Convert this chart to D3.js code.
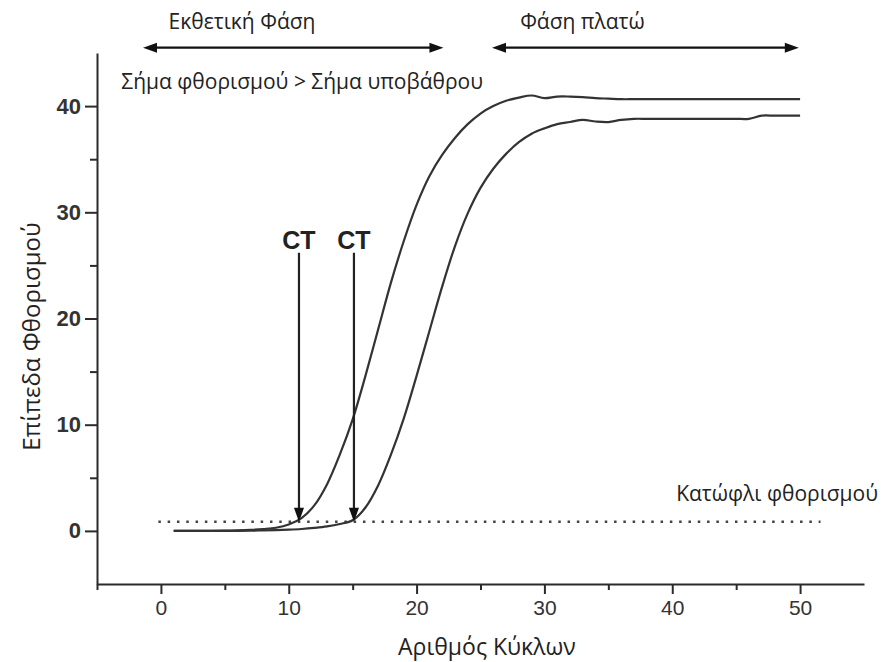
<!DOCTYPE html>
<html>
<head>
<meta charset="utf-8">
<script src="https://cdn.jsdelivr.net/npm/d3@7"></script>
<style>
body { margin: 0; background: #fff; }
</style>
</head>
<body>
<div id="chart"></div>
<script>
// cycle numbers and the two amplification curves
var cycles = [1, 2, 3, 4, 5, 6, 7, 8, 9, 10,
    11, 12, 13, 14, 15, 16, 17, 18, 19, 20,
    21, 22, 23, 24, 25, 26, 27, 28, 29, 30,
    31, 32, 33, 34, 35, 36, 37, 38, 39, 40,
    41, 42, 43, 44, 45, 46, 47, 48, 49, 50];
var sampleA = [0, 0, 0, 0, 0.02, 0.05, 0.1, 0.18, 0.3, 0.6,
    1.2, 2.4, 4.4, 7.2, 10.5, 14.6, 19.0, 23.4, 27.3, 30.7,
    33.4, 35.4, 37.0, 38.3, 39.3, 40.0, 40.5, 40.8, 41.0, 40.75,
    40.9, 40.9, 40.85, 40.75, 40.7, 40.65, 40.65, 40.65, 40.65, 40.65,
    40.65, 40.65, 40.65, 40.65, 40.65, 40.65, 40.65, 40.65, 40.65, 40.65];
var sampleB = [0, 0, 0, 0, 0, 0, 0.02, 0.05, 0.08, 0.12,
    0.18, 0.28, 0.42, 0.65, 1.0, 2.2, 4.3, 7.2, 10.6, 14.6,
    18.8, 23.0, 26.8, 29.9, 32.3, 34.1, 35.5, 36.6, 37.4, 37.9,
    38.3, 38.5, 38.7, 38.55, 38.5, 38.7, 38.8, 38.8, 38.8, 38.8,
    38.8, 38.8, 38.8, 38.8, 38.8, 38.8, 39.1, 39.1, 39.1, 39.1];
var xTicks = [0, 10, 20, 30, 40, 50];
var xMinor = [-5, 5, 15, 25, 35, 45];
var yTicks = [0, 10, 20, 30, 40];
var yMinor = [5, 15, 25, 35];
var threshold = 0.85;
var ctValues = [10.8, 15.1];

var width = 881,
    height = 662;

var svg = d3.select("#chart").append("svg")
    .attr("width", width)
    .attr("height", height)
    .style("font-family", "'Open Sans', sans-serif");

var x = d3.scaleLinear().domain([-5, 55]).range([97, 864]);
var y = d3.scaleLinear().domain([-5, 45]).range([584, 53]);

var ink = "#2b2b2b";

// axes
var yAxis = svg.append("g")
    .attr("transform", "translate(" + x(-5) + ",0)")
    .call(d3.axisLeft(y).tickValues(yTicks).tickSize(12).tickSizeOuter(0).tickPadding(4));
svg.append("g")
    .attr("transform", "translate(" + x(-5) + ",0)")
    .call(d3.axisLeft(y).tickValues(yMinor).tickSize(7).tickFormat(""))
    .select(".domain").remove();

var xAxis = svg.append("g")
    .attr("transform", "translate(0," + y(-5) + ")")
    .call(d3.axisBottom(x).tickValues(xTicks).tickSize(10).tickSizeOuter(0).tickPadding(6));
svg.append("g")
    .attr("transform", "translate(0," + y(-5) + ")")
    .call(d3.axisBottom(x).tickValues(xMinor).tickSize(6).tickFormat(""))
    .select(".domain").remove();

svg.selectAll(".domain, .tick line")
    .attr("stroke", ink)
    .attr("stroke-width", 2);

yAxis.selectAll("text")
    .attr("fill", "#333")
    .style("font-family", "'Liberation Sans', Arial, sans-serif")
    .style("font-size", "22px")
    .style("font-weight", "bold");
xAxis.selectAll("text")
    .attr("fill", "#333")
    .style("font-family", "'Liberation Sans', Arial, sans-serif")
    .style("font-size", "21px");

// axis titles
svg.append("text")
    .attr("x", x(25.5))
    .attr("y", 655)
    .attr("text-anchor", "middle")
    .style("font-size", "23px")
    .attr("fill", "#222")
    .text("Αριθμός Κύκλων");

svg.append("text")
    .attr("transform", "translate(32," + y(18.3) + ") rotate(-90)")
    .attr("dy", "0.35em")
    .attr("text-anchor", "middle")
    .style("font-size", "24px")
    .attr("fill", "#222")
    .text("Επίπεδα Φθορισμού");

// threshold
svg.append("line")
    .attr("x1", x(-0.2))
    .attr("x2", x(51.6))
    .attr("y1", y(threshold))
    .attr("y2", y(threshold))
    .attr("stroke", "#444")
    .attr("stroke-width", 2.5)
    .attr("stroke-dasharray", "2.5,6.8");

svg.append("text")
    .attr("x", x(56.1))
    .attr("y", y(3.5))
    .attr("dy", "0.35em")
    .attr("text-anchor", "end")
    .style("font-size", "21px")
    .attr("fill", "#222")
    .text("Κατώφλι φθορισμού");

// curves
var line = d3.line()
    .x(function (d) { return x(d[0]); })
    .y(function (d) { return y(d[1]); })
    .curve(d3.curveCatmullRom);

[sampleA, sampleB].forEach(function (series) {
    svg.append("path")
        .datum(cycles.map(function (c, i) { return [c, series[i]]; }))
        .attr("fill", "none")
        .attr("stroke", "#333")
        .attr("stroke-width", 2.2)
        .attr("d", line);
});

// arrowheads
function arrowHead(px, py, dir) {
    // dir: "down", "left", "right"
    var len = 14, half = 5;
    var pts;
    if (dir === "down") {
        pts = [[px, py], [px - half, py - len], [px + half, py - len]];
    } else if (dir === "left") {
        pts = [[px, py], [px + len, py - half], [px + len, py + half]];
    } else {
        pts = [[px, py], [px - len, py - half], [px - len, py + half]];
    }
    svg.append("path")
        .attr("d", "M" + pts.join("L") + "Z")
        .attr("fill", "#111");
}

// CT markers
ctValues.forEach(function (ct) {
    svg.append("line")
        .attr("x1", x(ct))
        .attr("x2", x(ct))
        .attr("y1", y(26.2))
        .attr("y2", y(threshold) - 12)
        .attr("stroke", "#222")
        .attr("stroke-width", 2.2);
    arrowHead(x(ct), y(threshold), "down");
    svg.append("text")
        .attr("x", x(ct))
        .attr("y", y(27.4))
        .attr("dy", "0.35em")
        .attr("text-anchor", "middle")
        .style("font-family", "'Liberation Sans', Arial, sans-serif")
        .style("font-size", "25px")
        .style("font-weight", "bold")
        .attr("fill", "#222")
        .text("CT");
});

// phase arrows at the top
var phases = [
    { label: "Εκθετική Φάση", from: -1.4, to: 22.1, textAt: 0.6 },
    { label: "Φάση πλατώ", from: 25.9, to: 49.9, textAt: 28.1 }
];
phases.forEach(function (p) {
    svg.append("line")
        .attr("x1", x(p.from) + 10)
        .attr("x2", x(p.to) - 10)
        .attr("y1", y(45.5))
        .attr("y2", y(45.5))
        .attr("stroke", "#111")
        .attr("stroke-width", 2.2);
    arrowHead(x(p.from), y(45.5), "left");
    arrowHead(x(p.to), y(45.5), "right");
    svg.append("text")
        .attr("x", x(p.textAt))
        .attr("y", 22)
        .attr("dy", "0.35em")
        .style("font-size", "21px")
        .attr("fill", "#222")
        .text(p.label);
});

svg.append("text")
    .attr("x", x(-3.1))
    .attr("y", 82)
    .attr("dy", "0.35em")
    .style("font-size", "21px")
    .attr("fill", "#222")
    .text("Σήμα φθορισμού > Σήμα υποβάθρου");
</script>
</body>
</html>
